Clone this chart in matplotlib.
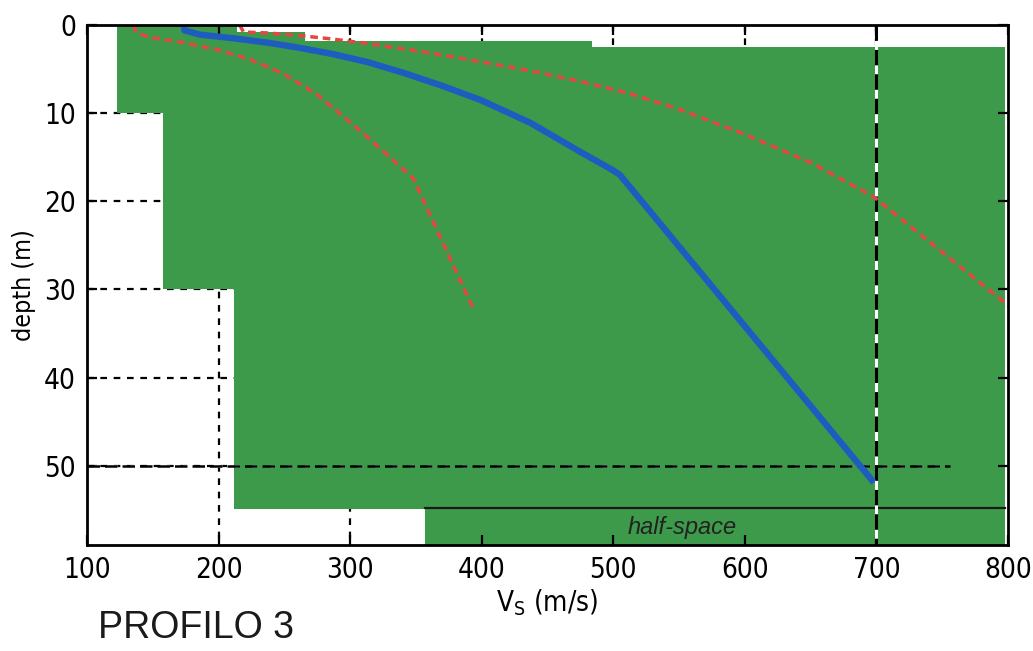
import matplotlib
matplotlib.use("Agg")
import matplotlib.pyplot as plt
from matplotlib import font_manager

# ---- data -------------------------------------------------------------
# search-space outline (Vs in m/s, depth in m)
space_vs = [123, 214, 214, 266, 266, 484, 484, 798, 798, 212, 212, 158, 158, 123]
space_depth = [0, 0, 0.8, 0.8, 1.8, 1.8, 2.5, 2.5, 54.9, 54.9, 30, 30, 10, 10]

# half-space range
half_vs = [357, 798]
half_top = 54.8

# best-fit profile
best_vs = [174, 174, 186, 211, 237, 262, 287, 313, 340, 370, 399, 437, 475, 500, 505, 698]
best_depth = [0, 0.6, 1.1, 1.5, 2.0, 2.6, 3.3, 4.2, 5.4, 6.9, 8.5, 11.1, 14.4, 16.5, 17.0, 51.9]

# lower bound profile
low_vs = [135, 138, 148, 173, 199, 224, 249, 275, 295, 310, 325, 348, 393]
low_depth = [0, 0.9, 1.4, 2.0, 2.8, 3.9, 5.5, 7.9, 10.4, 12.3, 14.3, 17.4, 32.0]

# upper bound profile
up_vs = [216, 219, 237, 262, 287, 313, 340, 370, 400, 437, 475, 513, 551, 600, 650, 698, 800]
up_depth = [0, 0.8, 0.9, 1.2, 1.6, 2.1, 2.7, 3.4, 4.2, 5.2, 6.4, 7.8, 9.6, 12.4, 15.6, 19.5, 31.8]

# reference lines
vs30_line = 700
depth_line = 50
depth_line_vs = [100, 756]

vs_ticks = [100, 200, 300, 400, 500, 600, 700, 800]
depth_ticks = [0, 10, 20, 30, 40, 50]

# ---- fonts ------------------------------------------------------------
names = {f.name for f in font_manager.fontManager.ttflist}
condensed = any(f.name == "DejaVu Sans" and f.stretch in ("condensed", "semi-condensed")
                for f in font_manager.fontManager.ttflist)
if "Liberation Sans Narrow" in names:
    num_font = dict(family="Liberation Sans Narrow")
elif condensed:
    num_font = dict(family="DejaVu Sans", stretch="condensed")
else:
    num_font = dict(family="Liberation Sans")

GREEN = "#3d9a4b"
BLUE = "#1e5cc0"
RED = "#e4473f"

fig = plt.figure(figsize=(10.33, 6.51), dpi=100)
ax = fig.add_axes([0.0842, 0.1628, 0.8916, 0.7988])

ax.set_xlim(100, 800)
ax.set_ylim(59, 0)

# dashed grid underneath everything
for v in vs_ticks[1:-1]:
    ax.plot([v, v], [0, 59], color="black", lw=1.6, ls=(0, (3, 3)), zorder=0.5)
for d in depth_ticks[1:]:
    ax.plot([100, 800], [d, d], color="black", lw=1.6, ls=(0, (3, 3)), zorder=0.5)

# search space and half-space
ax.fill(space_vs, space_depth, color=GREEN, lw=0, zorder=1)
ax.fill_between(half_vs, [half_top, half_top], [59, 59], color=GREEN, lw=0, zorder=1)
ax.plot(half_vs, [half_top, half_top], color="#1a1a1a", lw=1.6, zorder=2)
ax.text(552, 57.0, "half-space", style="italic", fontsize=17, color="#222222",
        ha="center", va="center", family="Liberation Sans", zorder=3)

# reference lines
ax.plot([vs30_line, vs30_line], [0, 59], color="white", lw=2.2, ls=(3, (3, 5)), zorder=2)
ax.plot([vs30_line, vs30_line], [0, 59], color="black", lw=2.2, ls=(0, (5, 3)), zorder=2.1)
ax.plot(depth_line_vs, [depth_line, depth_line], color="white", lw=1.8, ls=(4, (2, 5)), zorder=2)
ax.plot(depth_line_vs, [depth_line, depth_line], color="black", lw=1.8, ls=(0, (5, 2)), zorder=2.1)

# profiles
ax.plot(low_vs, low_depth, color=RED, lw=2.5, ls=(0, (2.2, 1.4)), zorder=3)
ax.plot(up_vs, up_depth, color=RED, lw=2.5, ls=(0, (2.2, 1.4)), zorder=3)
ax.plot(best_vs, best_depth, color=BLUE, lw=4.6, solid_capstyle="butt",
        solid_joinstyle="round", zorder=4)

# axes styling
ax.set_xticks(vs_ticks)
ax.set_yticks(depth_ticks)
ax.tick_params(direction="in", length=7, width=1.6, top=True, right=True,
               labelsize=20, pad=8)
for lab in ax.get_xticklabels() + ax.get_yticklabels():
    lab.set(**num_font)
for s in ax.spines.values():
    s.set_linewidth(2)
    s.set_zorder(5)

ax.set_xlabel(r"V$_\mathregular{S}$ (m/s)", fontsize=20, labelpad=2, **num_font)
ax.set_ylabel("depth (m)", fontsize=18, labelpad=6, **num_font)

fig.text(0.095, 0.02, "PROFILO 3", fontsize=27, family="Liberation Sans", color="#1a1a1a")

fig.savefig("out.png", dpi=100)
